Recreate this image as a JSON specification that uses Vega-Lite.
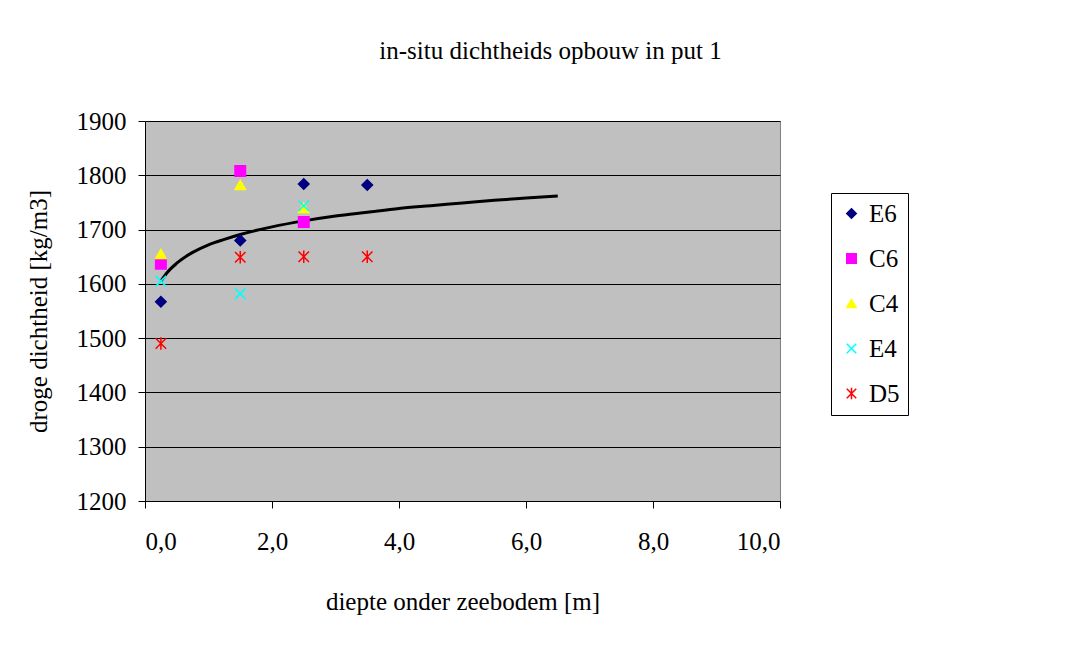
{
  "$schema": "https://vega.github.io/schema/vega-lite/v6.json",
  "width": 635,
  "height": 380,
  "autosize": "none",
  "padding": {"left": 145, "top": 121, "right": 305, "bottom": 151},
  "background": "white",
  "config": {
    "font": "Liberation Serif",
    "view": {"fill": "#C0C0C0", "stroke": "#808080", "strokeWidth": 1}
  },
  "title": {
    "text": "in-situ dichtheids opbouw in put 1",
    "fontSize": 25,
    "fontWeight": "normal",
    "font": "Liberation Serif",
    "anchor": "middle",
    "frame": "group",
    "dx": 88,
    "offset": 45,
    "color": "black"
  },
  "datasets": {
    "points": [
      {"serie": "E6", "diepte": 0.25, "dichtheid": 1567},
      {"serie": "E6", "diepte": 1.5, "dichtheid": 1680},
      {"serie": "E6", "diepte": 2.5, "dichtheid": 1784},
      {"serie": "E6", "diepte": 3.5, "dichtheid": 1782},
      {"serie": "C6", "diepte": 0.25, "dichtheid": 1637},
      {"serie": "C6", "diepte": 1.5, "dichtheid": 1808},
      {"serie": "C6", "diepte": 2.5, "dichtheid": 1714},
      {"serie": "C4", "diepte": 0.25, "dichtheid": 1655},
      {"serie": "C4", "diepte": 1.5, "dichtheid": 1782},
      {"serie": "C4", "diepte": 2.5, "dichtheid": 1740},
      {"serie": "E4", "diepte": 0.25, "dichtheid": 1605},
      {"serie": "E4", "diepte": 1.5, "dichtheid": 1582},
      {"serie": "E4", "diepte": 2.5, "dichtheid": 1744},
      {"serie": "D5", "diepte": 0.25, "dichtheid": 1490},
      {"serie": "D5", "diepte": 1.5, "dichtheid": 1649},
      {"serie": "D5", "diepte": 2.5, "dichtheid": 1650},
      {"serie": "D5", "diepte": 3.5, "dichtheid": 1650}
    ],
    "trend": [
      {"diepte": 0.25, "dichtheid": 1605},
      {"diepte": 0.35, "dichtheid": 1621},
      {"diepte": 0.5, "dichtheid": 1638},
      {"diepte": 0.75, "dichtheid": 1658},
      {"diepte": 1.0, "dichtheid": 1672},
      {"diepte": 1.25, "dichtheid": 1682},
      {"diepte": 1.5, "dichtheid": 1691},
      {"diepte": 2.0, "dichtheid": 1705},
      {"diepte": 2.5, "dichtheid": 1716},
      {"diepte": 3.0, "dichtheid": 1725},
      {"diepte": 3.5, "dichtheid": 1732},
      {"diepte": 4.0, "dichtheid": 1739},
      {"diepte": 4.5, "dichtheid": 1744},
      {"diepte": 5.0, "dichtheid": 1749},
      {"diepte": 5.5, "dichtheid": 1754},
      {"diepte": 6.0, "dichtheid": 1758},
      {"diepte": 6.5, "dichtheid": 1762}
    ]
  },
  "encoding": {
    "x": {
      "field": "diepte",
      "type": "quantitative",
      "scale": {"domain": [0, 10], "nice": false, "zero": false},
      "axis": {
        "title": "diepte onder zeebodem [m]",
        "values": [0, 2, 4, 6, 8, 10],
        "labelExpr": "replace(format(datum.value, '.1f'), '.', ',')",
        "grid": false,
        "domainColor": "black",
        "tickColor": "black",
        "tickSize": 7,
        "labelPadding": 21,
        "labelFontSize": 25,
        "labelColor": "black",
        "labelFont": "Liberation Serif",
        "titleFontSize": 25,
        "titleFontWeight": "normal",
        "titleColor": "black",
        "titleFont": "Liberation Serif",
        "titlePadding": 35
      }
    },
    "y": {
      "field": "dichtheid",
      "type": "quantitative",
      "scale": {"domain": [1200, 1900], "nice": false, "zero": false},
      "axis": {
        "title": "droge dichtheid [kg/m3]",
        "values": [1200, 1300, 1400, 1500, 1600, 1700, 1800, 1900],
        "format": "d",
        "grid": true,
        "gridColor": "black",
        "gridOpacity": 1,
        "gridWidth": 1,
        "domainColor": "black",
        "tickColor": "black",
        "tickSize": 7,
        "labelPadding": 12,
        "labelFontSize": 25,
        "labelColor": "black",
        "labelFont": "Liberation Serif",
        "titleFontSize": 25,
        "titleFontWeight": "normal",
        "titleColor": "black",
        "titleFont": "Liberation Serif",
        "titlePadding": 25
      }
    }
  },
  "layer": [
    {
      "data": {"name": "trend"},
      "mark": {"type": "line", "color": "black", "strokeWidth": 3, "interpolate": "monotone"}
    },
    {
      "data": {"name": "points"},
      "mark": {"type": "point", "filled": true, "size": 110, "strokeWidth": 1.5, "opacity": 1},
      "encoding": {
        "fill": {
          "field": "serie", "type": "nominal",
          "scale": {"domain": ["E6", "C6", "C4", "E4", "D5"], "range": ["#000080", "#FF00FF", "#FFFF00", "#00FFFF", "#FF0000"]},
          "legend": {"title": null, "orient": "none", "legendX": 686, "legendY": 72, "strokeColor": "black", "fillColor": "white", "padding": 8, "rowPadding": 19, "labelFontSize": 25, "labelFont": "Liberation Serif", "labelColor": "black", "symbolSize": 90, "labelOffset": 5, "symbolStrokeWidth": 1.5}
        },
        "stroke": {
          "field": "serie", "type": "nominal",
          "scale": {"domain": ["E6", "C6", "C4", "E4", "D5"], "range": ["#000080", "#FF00FF", "#FFFF00", "#00FFFF", "#FF0000"]},
          "legend": {"title": null, "orient": "none", "legendX": 686, "legendY": 72, "strokeColor": "black", "fillColor": "white", "padding": 8, "rowPadding": 19, "labelFontSize": 25, "labelFont": "Liberation Serif", "labelColor": "black", "symbolSize": 90, "labelOffset": 5, "symbolStrokeWidth": 1.5}
        },
        "shape": {
          "field": "serie", "type": "nominal",
          "scale": {"domain": ["E6", "C6", "C4", "E4", "D5"], "range": ["diamond", "square", "triangle-up", "M-1,-1L1,1M1,-1L-1,1", "M-1,-1L1,1M1,-1L-1,1M0,-1.2L0,1.2"]},
          "legend": {"title": null, "orient": "none", "legendX": 686, "legendY": 72, "strokeColor": "black", "fillColor": "white", "padding": 8, "rowPadding": 19, "labelFontSize": 25, "labelFont": "Liberation Serif", "labelColor": "black", "symbolSize": 90, "labelOffset": 5, "symbolStrokeWidth": 1.5}
        }
      }
    }
  ]
}
